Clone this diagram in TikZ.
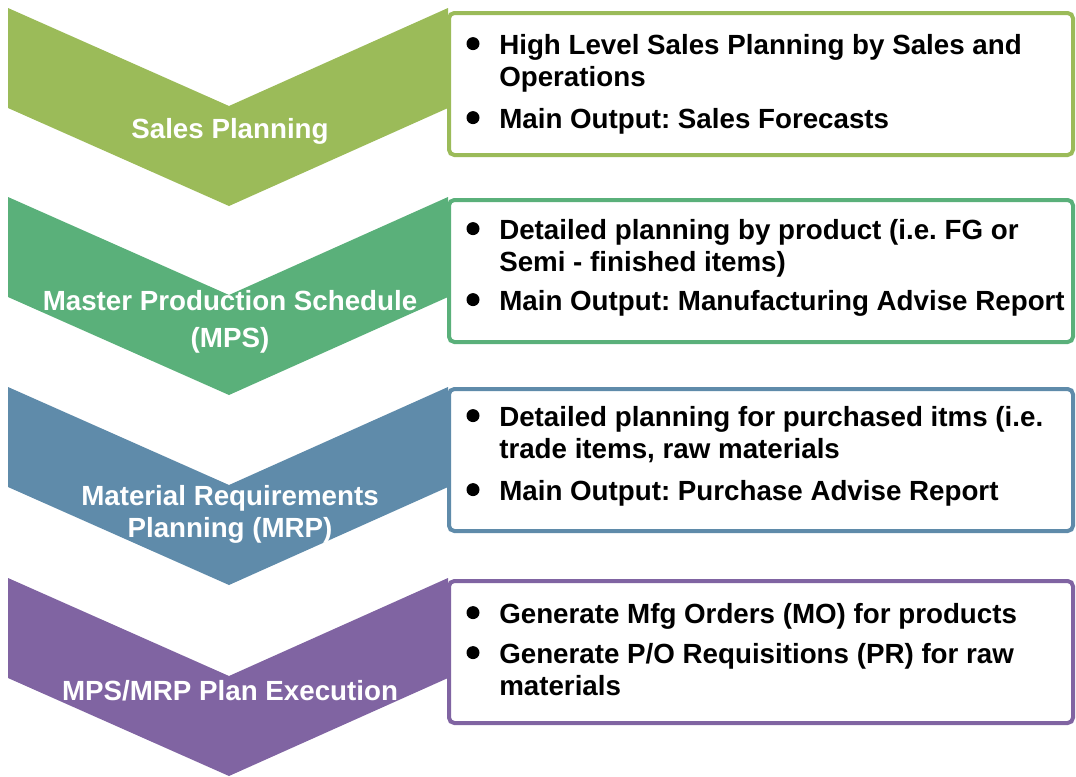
\documentclass[tikz,border=0pt]{standalone}
\usepackage{fontspec}
\setmainfont{Liberation Sans}
\usepackage{xcolor}
\usepackage{tikz}
\frenchspacing
\definecolor{salesgreen}{RGB}{155,187,89}
\definecolor{mpsgreen}{RGB}{90,176,122}
\definecolor{mrpblue}{RGB}{95,139,170}
\definecolor{execpurple}{RGB}{128,100,162}

\tikzset{
	stage/.style={text=white, font=\fontsize{20.8}{24}\bfseries\selectfont, align=center, anchor=base, inner sep=0pt},
	item/.style={text=black, font=\fontsize{20.8}{24}\bfseries\selectfont, align=left, anchor=base west, inner sep=0pt},
	dot/.style={circle, fill=black, inner sep=0pt, minimum size=9.75pt},
	infobox/.style={line width=3pt, fill=white, rounded corners=4pt},
}

\begin{document}
\begin{tikzpicture}[x=0.75pt, y=-0.75pt]
			\useasboundingbox (0,0) rectangle (1076,776);
			\coordinate (s1) at (8,8);
			\coordinate (s2) at (8,197);
			\coordinate (s3) at (8,387);
			\coordinate (s4) at (8,578);
			
			% chevrons
			\fill[salesgreen] (s1) -- ++(221,98) -- ++(219,-98) -- ++(0,100) -- ++(-219,98) -- ++(-221,-98) -- cycle;
			\fill[mpsgreen] (s2) -- ++(221,98) -- ++(219,-98) -- ++(0,100) -- ++(-219,98) -- ++(-221,-98) -- cycle;
			\fill[mrpblue] (s3) -- ++(221,98) -- ++(219,-98) -- ++(0,100) -- ++(-219,98) -- ++(-221,-98) -- cycle;
			\fill[execpurple] (s4) -- ++(221,98) -- ++(219,-98) -- ++(0,100) -- ++(-219,98) -- ++(-221,-98) -- cycle;
			
			% base of a two-line node is its last line
			\node[stage] (sales) at (230,138) {Sales Planning};
			\node[stage] (mps) at (230,347) {Master Production Schedule\\[3.75pt](MPS)};
			\node[stage] (mrp) at (230,537) {Material Requirements\\Planning (MRP)};
			\node[stage] (exec) at (230,700) {MPS/MRP Plan Execution};
			
			% boxes
			\draw[infobox, draw=salesgreen] (449,13) rectangle (1073,155);
			\draw[infobox, draw=mpsgreen] (449,200) rectangle (1073,342);
			\draw[infobox, draw=mrpblue] (449,389) rectangle (1073,531);
			\draw[infobox, draw=execpurple] (449,581) rectangle (1073,723);
			
			\node[item] (i11) at (499,86) {High Level Sales Planning by Sales and\\Operations};
			\node[item] (i12) at (499,128) {Main Output: Sales Forecasts};
			\node[item] (i21) at (499,271) {Detailed planning by product (i.e. FG or\\Semi - finished items)};
			\node[item] (i22) at (499,310) {Main Output: Manufacturing Advise Report};
			\node[item] (i31) at (499,458) {Detailed planning for purchased itms (i.e.\\trade items, raw materials};
			\node[item] (i32) at (499,500) {Main Output: Purchase Advise Report};
			\node[item] (i41) at (499,623) {Generate Mfg Orders (MO) for products};
			\node[item] (i42) at (499,695) {Generate P/O Requisitions (PR) for raw\\materials};
			
			\node[dot] (d11) at ([shift={(-26,10)}]i11.north west) {};
			\node[dot] (d12) at ([shift={(-26,10)}]i12.north west) {};
			\node[dot] (d21) at ([shift={(-26,10)}]i21.north west) {};
			\node[dot] (d22) at ([shift={(-26,10)}]i22.north west) {};
			\node[dot] (d31) at ([shift={(-26,10)}]i31.north west) {};
			\node[dot] (d32) at ([shift={(-26,10)}]i32.north west) {};
			\node[dot] (d41) at ([shift={(-26,10)}]i41.north west) {};
			\node[dot] (d42) at ([shift={(-26,10)}]i42.north west) {};
\end{tikzpicture}
\end{document}
